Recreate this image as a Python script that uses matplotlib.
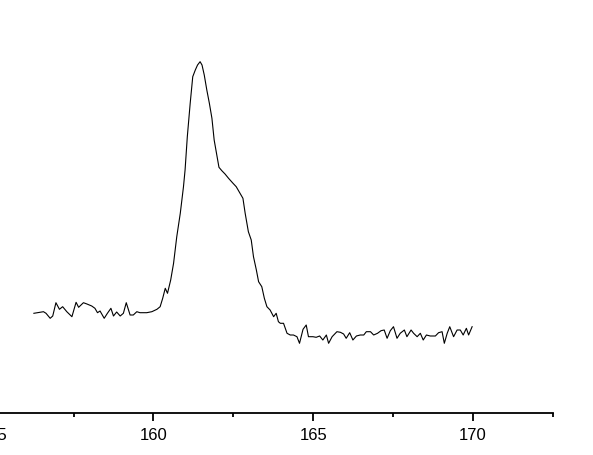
import matplotlib
matplotlib.use("Agg")
import matplotlib.pyplot as plt
from matplotlib.ticker import MultipleLocator

binding_energy = [
    156.26, 156.45, 156.56, 156.64, 156.77, 156.85, 156.95, 157.06, 157.16, 157.29,
    157.45, 157.58, 157.66, 157.81, 157.92, 158.07, 158.17, 158.25, 158.33, 158.46,
    158.56, 158.67, 158.75, 158.85, 158.96, 159.06, 159.15, 159.27, 159.37, 159.48,
    159.58, 159.79, 159.95, 160.11, 160.21, 160.29, 160.37, 160.44, 160.54, 160.63,
    160.73, 160.84, 160.94, 160.99, 161.06, 161.15, 161.23, 161.31, 161.38, 161.46,
    161.52, 161.59, 161.67, 161.75, 161.83, 161.90, 161.99, 162.05, 162.14, 162.24,
    162.35, 162.49, 162.59, 162.71, 162.80, 162.87, 162.97, 163.06, 163.13, 163.22,
    163.29, 163.39, 163.47, 163.55, 163.65, 163.76, 163.84, 163.91, 163.97, 164.07,
    164.18, 164.28, 164.38, 164.49, 164.57, 164.68, 164.78, 164.85, 164.99, 165.09,
    165.20, 165.30, 165.41, 165.48, 165.59, 165.74, 165.85, 165.95, 166.03, 166.14,
    166.24, 166.35, 166.47, 166.58, 166.66, 166.79, 166.89, 167.01, 167.12, 167.22,
    167.31, 167.41, 167.51, 167.62, 167.72, 167.85, 167.93, 168.06, 168.14, 168.25,
    168.35, 168.44, 168.54, 168.66, 168.82, 168.92, 169.03, 169.10, 169.19, 169.27,
    169.39, 169.50, 169.60, 169.69, 169.79, 169.86, 169.97,
]
intensity = [
    99.7, 100.7, 101.3, 99.7, 94.7, 97.0, 110.3, 103.7, 106.3, 101.3,
    96.3, 110.7, 105.7, 110.3, 109.0, 107.0, 104.7, 100.3, 102.0, 94.7,
    99.7, 104.7, 97.0, 101.0, 97.0, 99.7, 110.3, 98.0, 98.0, 101.3,
    100.3, 100.3, 101.3, 103.7, 106.3, 114.7, 124.7, 119.7, 133.0, 149.7,
    176.3, 199.7, 226.3, 243.0, 276.3, 309.7, 336.3, 343.0, 348.0, 351.3,
    348.0, 338.0, 323.0, 309.7, 294.7, 273.0, 256.3, 245.7, 242.3, 239.0,
    234.7, 229.7, 226.3, 219.7, 214.7, 199.7, 181.3, 173.0, 156.3, 143.0,
    131.3, 126.3, 114.7, 106.3, 103.0, 96.3, 99.7, 91.3, 89.7, 89.7,
    79.7, 78.0, 78.0, 76.3, 69.7, 83.7, 88.0, 76.3, 76.3, 75.7,
    77.0, 73.0, 78.0, 69.7, 76.3, 81.3, 80.7, 79.0, 74.7, 80.3,
    73.0, 77.0, 78.0, 78.0, 81.3, 81.3, 78.0, 79.7, 82.3, 83.0,
    74.7, 82.3, 86.3, 74.7, 79.7, 83.0, 76.3, 83.0, 79.7, 76.3,
    79.7, 73.0, 78.0, 77.0, 77.0, 80.3, 81.3, 69.7, 79.7, 86.3,
    76.3, 83.0, 83.0, 78.0, 84.7, 78.0, 86.3,
]
major_ticks = [155, 160, 165, 170]
tick_labels = ["155", "160", "165", "170"]

plt.rcParams['font.family'] = ['Liberation Sans', 'DejaVu Sans']

fig = plt.figure(figsize=(5.93, 4.56), dpi=100)
ax = fig.add_axes([-6.4 / 593, 42 / 456, 559.4 / 593, 414 / 456])
ax.plot(binding_energy, intensity, color='black', linewidth=0.8)

ax.set_xlim(155, 172.5)
ax.set_ylim(0, 414)
ax.set_xticks(major_ticks)
ax.set_xticklabels(tick_labels)
ax.xaxis.set_minor_locator(MultipleLocator(2.5))
ax.tick_params(axis='x', which='major', direction='out', length=5.5, width=1.3,
               labelsize=12, pad=4.5)
ax.tick_params(axis='x', which='minor', direction='out', length=3, width=1.3)
ax.tick_params(axis='y', left=False, labelleft=False)
for side in ('left', 'top', 'right'):
    ax.spines[side].set_visible(False)
ax.spines['bottom'].set_linewidth(1.3)
ax.patch.set_visible(False)

fig.savefig('out.png', dpi=100)
